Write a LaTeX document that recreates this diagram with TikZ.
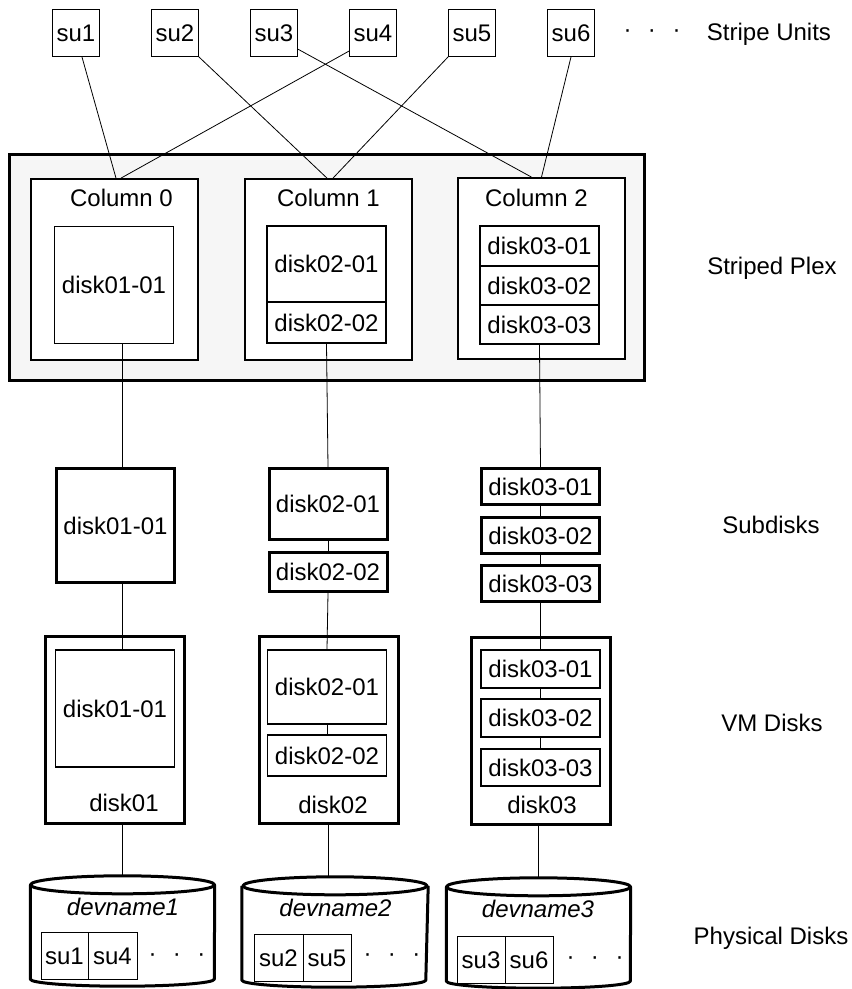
\documentclass[tikz,border=0pt]{standalone}
\usepackage{fontspec}
\setmainfont{Liberation Sans}
\usepackage{tikz}
\definecolor{plexgray}{RGB}{246,246,246}
\newcommand\dotrow{·\hspace{16.5pt}·\hspace{16.5pt}·}

\begin{document}
\begin{tikzpicture}[x=1pt,y=-1pt, every node/.style={font=\fontsize{24}{28}\selectfont,inner sep=0pt}]
    \tikzset{unit/.style={draw,line width=0.9pt,minimum width=47,minimum height=47}}
    \tikzset{plex/.style={draw,line width=3.5pt,fill=plexgray}}
    \tikzset{colbox/.style={draw,line width=1.8pt,fill=white,minimum width=167,minimum height=181}}
    \tikzset{part/.style={draw,line width=1.6pt,fill=white,minimum width=119}}
    \tikzset{sdbox/.style={draw,line width=3pt,minimum width=118}}
    \tikzset{vmbox/.style={draw,line width=3pt,minimum width=139,minimum height=187}}
    \tikzset{pdunit/.style={draw,line width=0.9pt,minimum height=47}}
    \tikzset{disk/.style={line width=3pt,line join=round}}
    \tikzset{link/.style={line width=0.8pt}}

    \useasboundingbox (0,0) rectangle (852,989);

    % Stripe units
    \node[unit] (su1) at (76,33) {su1};
    \node[unit] (su2) at (175,33) {su2};
    \node[unit] (su3) at (274,33) {su3};
    \node[unit] (su4) at (373,33) {su4};
    \node[unit] (su5) at (472,33) {su5};
    \node[unit] (su6) at (571,33) {su6};
    \node (sudots) at (652,34) {\dotrow};
    \node (lunits) at (769,34) {Stripe Units};

    % Striped plex
    \node[plex,minimum width=635,minimum height=226] (plex) at (327,267.5) {};
    \node[colbox] (col0) at (114.5,269.5) {};
    \node[colbox] (col1) at (328.5,269.5) {};
    \node[colbox] (col2) at (541.5,268.5) {};
    \node (lcol0) at (121.5,198) {Column 0};
    \node (lcol1) at (328.5,198) {Column 1};
    \node (lcol2) at (536.5,198) {Column 2};
    \node[part,minimum height=117] (pc0) at (114,285) {disk01-01};
    \node[part,minimum height=76] (pc1a) at (326.5,264) {disk02-01};
    \node[part,minimum height=41] (pc1b) at (326.5,322.5) {disk02-02};
    \node[part,minimum height=40] (pc2a) at (539.5,246) {disk03-01};
    \node[part,minimum height=39] (pc2b) at (539.5,285.5) {disk03-02};
    \node[part,minimum height=39] (pc2c) at (539.5,324.5) {disk03-03};
    \node (lplex) at (772,268) {Striped Plex};

    \draw[link] (su1.-76) -- ([xshift=1.5]col0.north);
    \draw[link] (su4.-143) -- ([xshift=6.5]col0.north);
    \draw[link] (su2.south east) -- ([xshift=-1.5]col1.north);
    \draw[link] (su5.south west) -- ([xshift=4.5]col1.north);
    \draw[link] (su3.-34) -- ([xshift=-10]col2.north);
    \draw[link] (su6.south) -- (col2.north);

    % Subdisks
    \node[sdbox,minimum height=114] (sd0) at (115.5,525.5) {disk01-01};
    \node[sdbox,minimum height=71] (sd1a) at (328,504) {disk02-01};
    \node[sdbox,minimum height=39] (sd1b) at (328,572) {disk02-02};
    \node[sdbox,minimum height=36] (sd2a) at (540.5,486.5) {disk03-01};
    \node[sdbox,minimum height=36] (sd2b) at (540.5,535.5) {disk03-02};
    \node[sdbox,minimum height=36] (sd2c) at (540.5,583.5) {disk03-03};
    \node (lsub) at (771,525) {Subdisks};

    % VM disks
    \node[vmbox] (vm0) at (115,729.5) {};
    \node[vmbox] (vm1) at (328.5,730) {};
    \node[vmbox] (vm2) at (541,730.5) {};
    \node[part,minimum height=117] (vd0) at (115,708.5) {disk01-01};
    \node[part,minimum height=74] (vd1a) at (327,687) {disk02-01};
    \node[part,minimum height=41] (vd1b) at (327,755.5) {disk02-02};
    \node[part,minimum height=38] (vd2a) at (540.5,669) {disk03-01};
    \node[part,minimum height=38] (vd2b) at (540.5,718) {disk03-02};
    \node[part,minimum height=37] (vd2c) at (540.5,767.5) {disk03-03};
    \node (lvm0) at (124,803) {disk01};
    \node (lvm1) at (333,805) {disk02};
    \node (lvm2) at (542,805) {disk03};
    \node (lvm) at (772,723) {VM Disks};

    % Physical disks
    \node[minimum width=184,minimum height=110] (pd1) at (122.5,931) {};
    \node[minimum width=186,minimum height=110] (pd2) at (335,932) {};
    \node[minimum width=184,minimum height=110] (pd3) at (538.5,933) {};
    \foreach \d in {pd1,pd2,pd3}{
      \draw[disk] ([yshift=-9]\d.north) ellipse [x radius=92pt, y radius=9pt];
      \draw[disk] ([yshift=-9]\d.north west) -- ([yshift=7]\d.south west)
        arc[start angle=180, end angle=360, x radius=92pt, y radius=7pt] -- ([yshift=-9]\d.north east);
    }
    \node (dev1) at (123,907) {\itshape devname1};
    \node (dev2) at (335.5,908) {\itshape devname2};
    \node (dev3) at (538,909) {\itshape devname3};
    \node[pdunit,minimum width=47] (pu1) at (64.5,956) {su1};
    \node[pdunit,minimum width=49] (pu4) at (112.5,956) {su4};
    \node[pdunit,minimum width=49] (pu2) at (278.5,958) {su2};
    \node[pdunit,minimum width=48] (pu5) at (327,958) {su5};
    \node[pdunit,minimum width=48] (pu3) at (481,960) {su3};
    \node[pdunit,minimum width=48] (pu6) at (529,960) {su6};
    \node (pdots1) at (177,958) {\dotrow};
    \node (pdots2) at (392,958) {\dotrow};
    \node (pdots3) at (595,961) {\dotrow};
    \node (lpd) at (771,938) {Physical Disks};

    % Links down the columns
    \draw[link] ([xshift=8]pc0.south) -- ([xshift=6.5]sd0.north);
    \draw[link] ([xshift=6.5]sd0.south) -- ([xshift=7]vd0.north);
    \draw[link] (vm0.south -| pd1.north) -- (pd1.north);
    \draw[link] (pc1b.south) -- (sd1a.north);
    \draw[link] (sd1a.south) -- (sd1b.north);
    \draw[link] (sd1b.south) -- (vd1a.north);
    \draw[link] (vd1a.south) -- (vd1b.north);
    \draw[link] (vm1.south) -- (vm1.south |- pd2.north);
    \draw[link] (pc2c.south) -- (sd2a.north);
    \draw[link] (sd2a.south) -- (sd2b.north);
    \draw[link] (sd2b.south) -- (sd2c.north);
    \draw[link] (sd2c.south) -- (vd2a.north);
    \draw[link] (vd2a.south) -- (vd2b.north);
    \draw[link] (vd2b.south) -- (vd2c.north);
    \draw[link] (vm2.south -| pd3.north) -- (pd3.north);
\end{tikzpicture}
\end{document}
